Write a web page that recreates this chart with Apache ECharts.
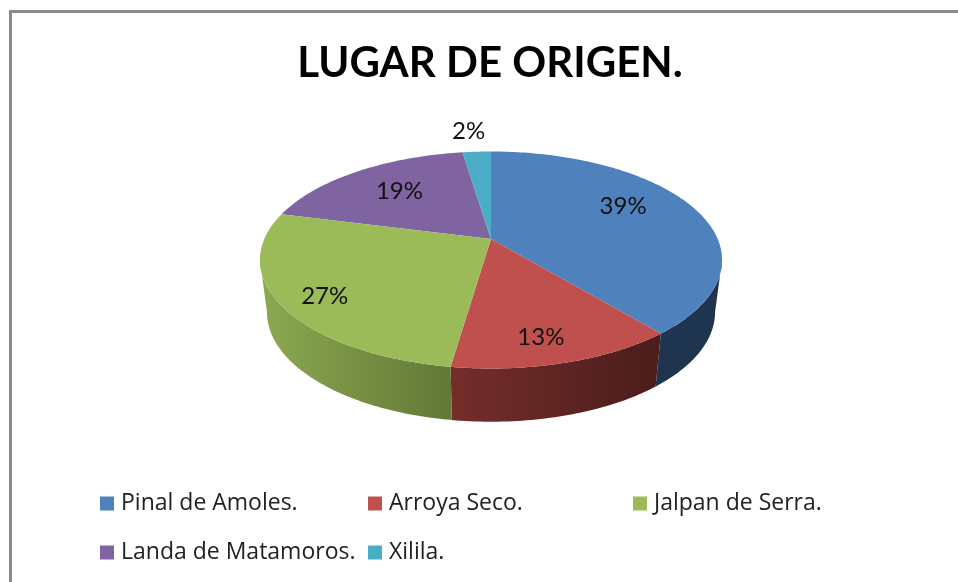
<!DOCTYPE html>
<html><head><meta charset="utf-8">
<style>html,body{margin:0;padding:0;background:#fff}#c{width:958px;height:582px}</style>
<script src="https://cdn.jsdelivr.net/npm/echarts@6/dist/echarts.min.js"></script>
</head><body><div id="c"></div>
<script>
const categories = ['Pinal de Amoles.', 'Arroya Seco.', 'Jalpan de Serra.', 'Landa de Matamoros.', 'Xilila.'];
const shares = [39.0, 13.3, 26.7, 18.6, 2.4];
const titleText = 'LUGAR DE ORIGEN.';

const topColors = ['#4F81BD', '#C0504D', '#9BBB59', '#8064A2', '#4BACC6'];
const sideColors = [['#1E344F', '#1E344F'], ['#752D2B', '#4A1D1B'], ['#8CA951', '#627836'], ['#4D3C62', '#4D3C62'], ['#2D6777', '#2D6777']];
const labelShift = [[5, -12], [7, 28], [-41, 19], [-5, -4], [-13, -50]];

// Perspective projection of the pie's circle onto the page
const FONT = 'Lato';
const LEGEND_FONT = 'Open Sans';
const K = 0.1935, CX = 491;
const TOP = {cy: 260, a: 226.7, b: 108.5, c: -21};
const BOT = {cy: 312, a: 219.8, b: 109.5, c: -21};
function project(e, deg, r) {
  const t = deg * Math.PI / 180, u = r * Math.sin(t), v = -r * Math.cos(t), w = 1 - K * v;
  return [CX + e.a * u / w, e.cy + (e.b * v + e.c) / w];
}
const FRONT_START = 101.2, FRONT_END = 258.8; // rim is in front of the widest line between these

const starts = [];
shares.reduce((s, v, i) => (starts[i] = s, s + v), 0);
const total = shares.reduce((a, b) => a + b, 0);

function renderSlice(i) {
  return function () {
    const a0 = starts[i] / total * 360, a1 = (starts[i] + shares[i]) / total * 360;
    const children = [];
    const f0 = Math.max(a0, FRONT_START), f1 = Math.min(a1, FRONT_END);
    if (f1 > f0) {
      const up = [], down = [];
      for (let d = f0; ; d += 1) {
        const x = Math.min(d, f1);
        up.push(project(TOP, x, 1));
        down.unshift(project(BOT, x, 1));
        if (x >= f1) break;
      }
      children.push({
        type: 'polygon', shape: {points: up.concat(down)},
        style: {fill: {type: 'linear', x: 0, y: 0, x2: 1, y2: 0, colorStops: [
          {offset: 0, color: sideColors[i][0]}, {offset: 1, color: sideColors[i][1]}]}}
      });
    }
    const pts = [project(TOP, 0, 0)];
    for (let d = a0; ; d += 1) {
      const x = Math.min(d, a1);
      pts.push(project(TOP, x, 1));
      if (x >= a1) break;
    }
    children.push({type: 'polygon', shape: {points: pts}, style: {fill: topColors[i]}});
    const p = project(TOP, (a0 + a1) / 2, 0.62);
    children.push({
      type: 'text', z2: 10,
      style: {x: p[0] + labelShift[i][0], y: p[1] + labelShift[i][1],
        text: Math.round(shares[i] / total * 100) + '%', fill: '#111',
        font: '24px ' + FONT, align: 'center', verticalAlign: 'middle'}
    });
    return {type: 'group', children};
  };
}

const drawOrder = [3, 4, 0, 1, 2];
const series = drawOrder.map(i => ({
  type: 'custom', name: categories[i], coordinateSystem: 'none',
  itemStyle: {color: topColors[i]}, silent: true, animation: false,
  data: [[shares[i]]], renderItem: renderSlice(i)
}));

const legendBase = {orient: 'vertical', icon: 'rect', itemWidth: 14, itemHeight: 14, itemGap: 26, selectedMode: false,
  textStyle: {fontFamily: LEGEND_FONT, fontSize: 23, color: '#222', padding: [0, 0, 0, 2]}, padding: 0};
const legendColumns = [
  {left: 100, members: [0, 3]}, {left: 368, members: [1, 4]}, {left: 633, members: [2]}
];

const chart = echarts.init(document.getElementById('c'), null, {renderer: 'canvas'});
chart.setOption({
  animation: false,
  backgroundColor: '#fff',
  title: {text: titleText, left: 485, top: 37, textAlign: 'center',
    textStyle: {fontFamily: FONT, fontWeight: 'bold', fontSize: 42, color: '#000'}},
  legend: legendColumns.map(c => Object.assign({}, legendBase, {
    left: c.left, top: 492, data: c.members.map(i => ({name: categories[i], itemStyle: {color: topColors[i]}}))
  })),
  graphic: [
    {type: 'rect', shape: {x: 9, y: 10, width: 949, height: 3}, style: {fill: '#8A8A8A'}, silent: true},
    {type: 'rect', shape: {x: 9, y: 10, width: 3, height: 572}, style: {fill: '#8A8A8A'}, silent: true}
  ],
  series
});
</script></body></html>
